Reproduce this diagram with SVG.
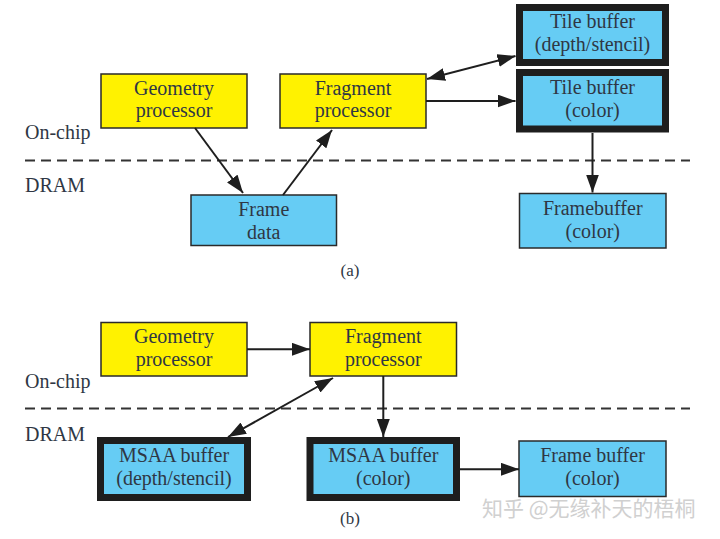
<svg xmlns="http://www.w3.org/2000/svg" width="720" height="539" viewBox="0 0 720 539">
<defs>
<style>
text{font-family:"Liberation Serif","DejaVu Serif",serif;font-size:20px;fill:#2f3744;text-anchor:middle}
.lbl{text-anchor:start}
.y{fill:#fff200;stroke:#2a2a2a;stroke-width:1.5}
.b{fill:#66ccf4;stroke:#2a2a2a;stroke-width:1.5}
.bt{fill:#66ccf4;stroke:#1e1e1e;stroke-width:7}
.c{stroke:#1e1e1e;stroke-width:2;fill:none}
.d{stroke:#333;stroke-width:2;stroke-dasharray:10,6;fill:none}
.wm{font-family:"Noto Sans CJK SC","Liberation Sans",sans-serif;font-size:21px;fill:#d0d0d0;text-anchor:start}
</style>
<marker id="ahb" viewBox="0 0 10 10" refX="10" refY="5" markerWidth="18" markerHeight="13" markerUnits="userSpaceOnUse" orient="auto-start-reverse" preserveAspectRatio="none">
<path d="M0,0 L10,5 L0,10 z" fill="#1e1e1e"/>
</marker>
</defs>
<rect width="720" height="539" fill="#fff"/>

<!-- separators and region labels -->
<path class="d" d="M25,160.5 H690"/>
<path class="d" d="M25,408.5 H690"/>
<text class="lbl" x="25" y="139">On-chip</text>
<text class="lbl" x="25" y="192">DRAM</text>
<text class="lbl" x="25" y="388">On-chip</text>
<text class="lbl" x="25" y="441">DRAM</text>

<!-- (a) -->
<g id="a_geometry"><rect class="y" x="101" y="74" width="146" height="54"/><text x="174" y="95">Geometry</text><text x="174" y="117">processor</text></g>
<g id="a_fragment"><rect class="y" x="280" y="74" width="146" height="54"/><text x="353" y="95">Fragment</text><text x="353" y="117">processor</text></g>
<g id="a_tile_depth"><rect class="bt" x="519.5" y="7.5" width="146" height="55"/><text x="592.5" y="28">Tile buffer</text><text x="592.5" y="51">(depth/stencil)</text></g>
<g id="a_tile_color"><rect class="bt" x="519.5" y="72.5" width="146" height="56.5"/><text x="592.5" y="94">Tile buffer</text><text x="592.5" y="117">(color)</text></g>
<g id="a_frame_data"><rect class="b" x="191" y="195" width="145.5" height="50.5"/><text x="263.75" y="216">Frame</text><text x="263.75" y="239">data</text></g>
<g id="a_framebuffer"><rect class="b" x="519.5" y="193.5" width="146.5" height="54.5"/><text x="592.75" y="215">Framebuffer</text><text x="592.75" y="238">(color)</text></g>
<text x="350" y="276" style="font-size:17px">(a)</text>

<!-- (b) -->
<g id="b_geometry"><rect class="y" x="101" y="322.5" width="146" height="53.5"/><text x="174" y="343">Geometry</text><text x="174" y="366">processor</text></g>
<g id="b_fragment"><rect class="y" x="310" y="322.5" width="146.5" height="53.5"/><text x="383.25" y="343">Fragment</text><text x="383.25" y="366">processor</text></g>
<g id="b_msaa_depth"><rect class="bt" x="100.5" y="440.5" width="147" height="57"/><text x="174" y="462">MSAA buffer</text><text x="174" y="485">(depth/stencil)</text></g>
<g id="b_msaa_color"><rect class="bt" x="310" y="440.5" width="146.5" height="57"/><text x="383.25" y="462">MSAA buffer</text><text x="383.25" y="485">(color)</text></g>
<g id="b_framebuffer"><rect class="b" x="519" y="441" width="147" height="55.5"/><text x="592.5" y="462">Frame buffer</text><text x="592.5" y="485">(color)</text></g>
<text x="350" y="524" style="font-size:17px">(b)</text>

<!-- connectors -->
<g id="connectors">
<path class="c" d="M195,128 L243,193" marker-end="url(#ahb)"/>
<path class="c" d="M283,195 L332,130" marker-end="url(#ahb)"/>
<path class="c" d="M427,79 L515.5,56" marker-start="url(#ahb)" marker-end="url(#ahb)"/>
<path class="c" d="M426,101 L515.5,101" marker-end="url(#ahb)"/>
<path class="c" d="M592.5,133 L592.5,192.5" marker-end="url(#ahb)"/>
<path class="c" d="M247,349.3 L310,349.3" marker-end="url(#ahb)"/>
<path class="c" d="M333,378 L228,437" marker-start="url(#ahb)" marker-end="url(#ahb)"/>
<path class="c" d="M383.3,376 L383.3,437" marker-end="url(#ahb)"/>
<path class="c" d="M460,469.3 L519,469.3" marker-end="url(#ahb)"/>
</g>

<text class="wm" x="482" y="516">知乎 @无缘补天的梧桐</text>
</svg>
